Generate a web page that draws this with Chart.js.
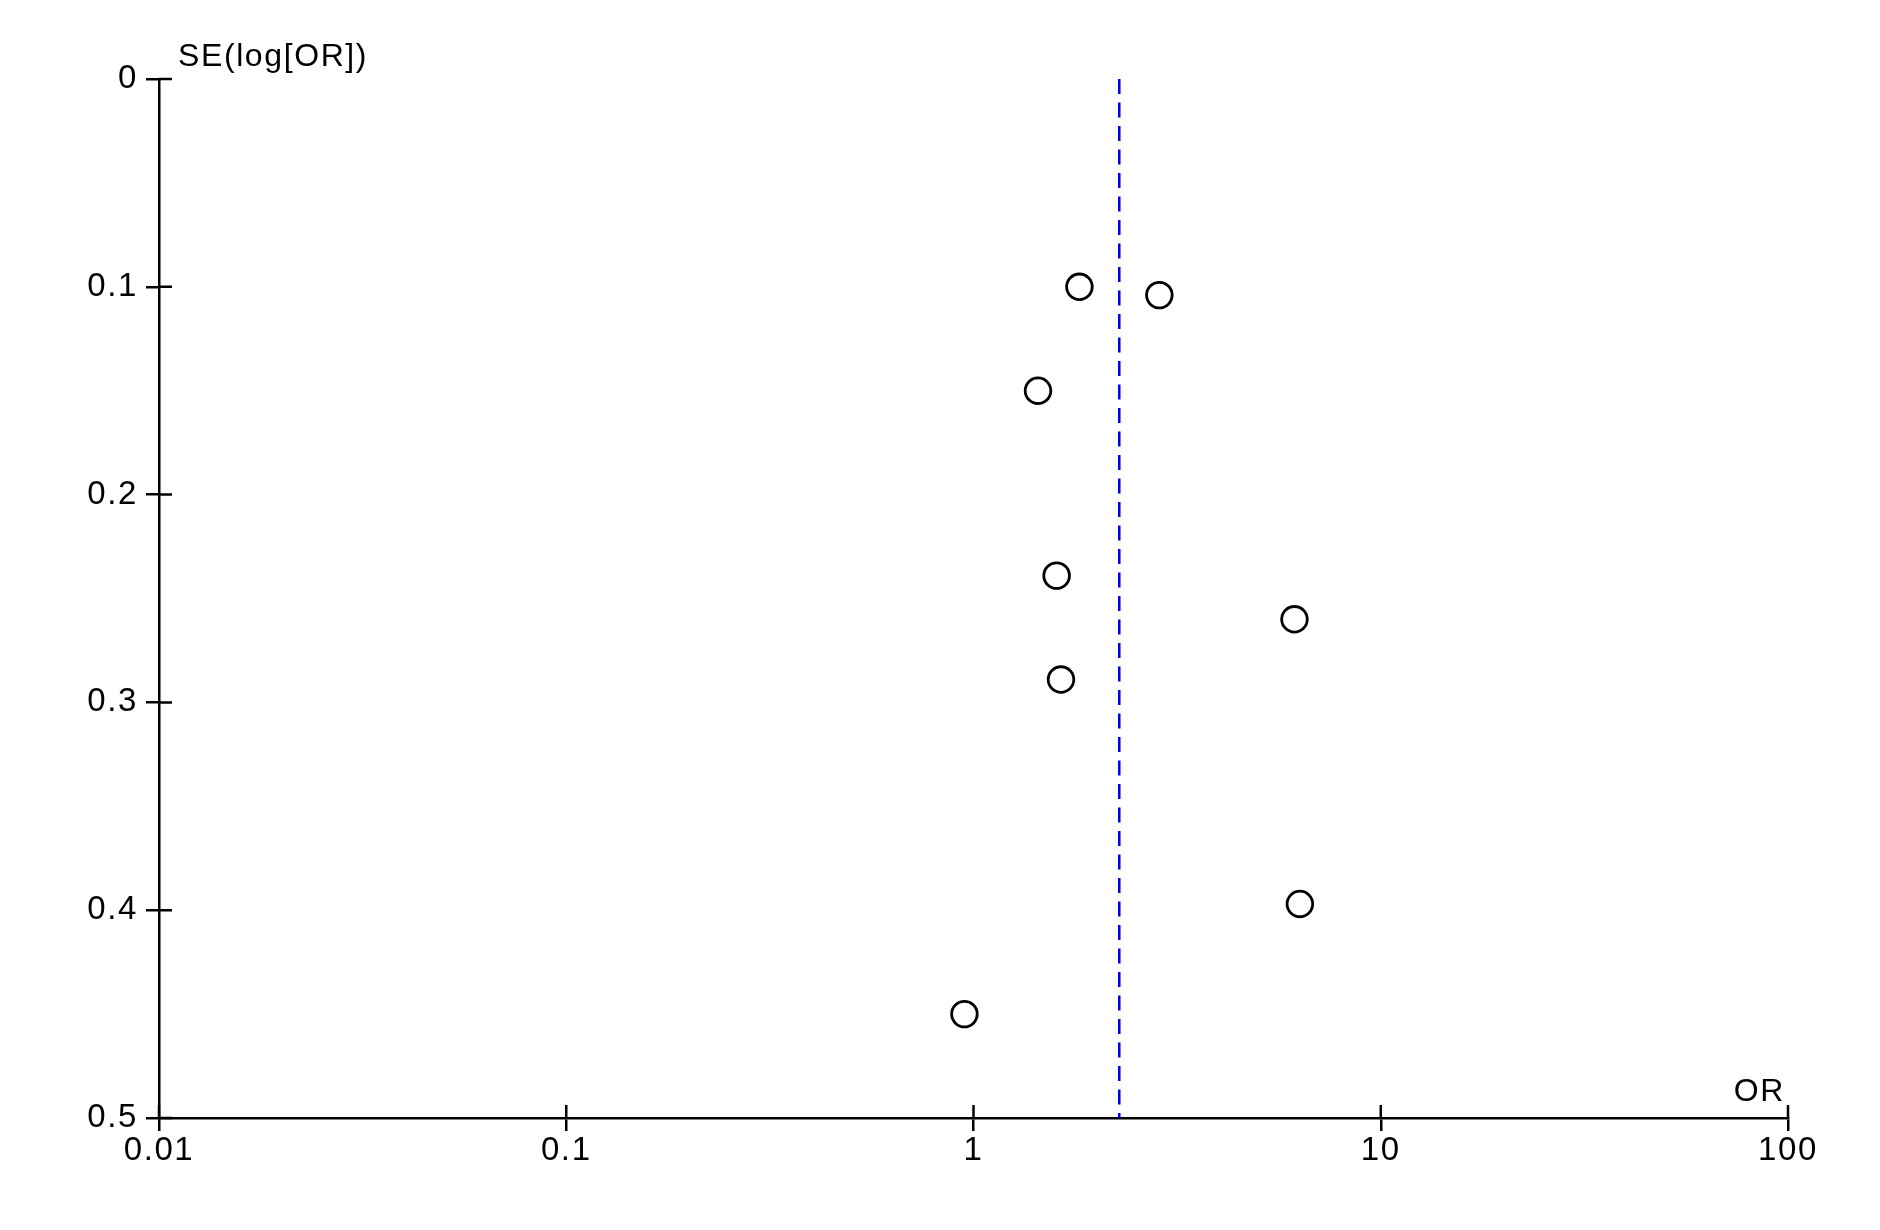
<!DOCTYPE html>
<html>
<head>
<meta charset="utf-8">
<script src="https://cdn.jsdelivr.net/npm/chart.js@4/dist/chart.umd.min.js"></script>
<style>
html,body{margin:0;padding:0;background:#fff;}
canvas{display:block;}
</style>
</head>
<body>
<canvas id="funnel" width="1880" height="1230"></canvas>
<script>
// study estimates (odds ratio) and their standard errors
const orValues = [1.82, 2.86, 1.44, 1.60, 6.14, 1.64, 6.33, 0.95];
const seValues = [0.100, 0.104, 0.150, 0.239, 0.260, 0.289, 0.397, 0.450];
// pooled estimate (dashed line)
const pooledOR = 2.28;
const pooledSE = [0, 0.5];

const xTicks = [0.01, 0.1, 1, 10, 100];
const xTickLabels = ["0.01", "0.1", "1", "10", "100"];
const yTicks = [0, 0.1, 0.2, 0.3, 0.4, 0.5];
const yTickLabels = ["0", "0.1", "0.2", "0.3", "0.4", "0.5"];

const FONT = '"Liberation Sans", Arial, sans-serif';
const TICK = 13;

const points = orValues.map((v, i) => ({x: v, y: seValues[i]}));
const pooledLine = pooledSE.map(s => ({x: pooledOR, y: s}));

// wider letter spacing like the original bitmap font
const spacing = {
  id: "spacing",
  beforeLayout(chart){ chart.ctx.letterSpacing = "1.6px"; },
  beforeDraw(chart){ chart.ctx.letterSpacing = "1.6px"; }
};

// inner half of the crossing ticks + axis titles
const extras = {
  id: "extras",
  afterDraw(chart){
    const ctx = chart.ctx;
    const a = chart.chartArea;
    const xs = chart.scales.x, ys = chart.scales.y;
    ctx.save();
    ctx.strokeStyle = "#000";
    ctx.lineWidth = 2.5;
    ctx.beginPath();
    xs.ticks.forEach((t, i) => {
      const px = xs.getPixelForTick(i);
      ctx.moveTo(px, a.bottom);
      ctx.lineTo(px, a.bottom - TICK);
    });
    ys.ticks.forEach((t, i) => {
      const py = ys.getPixelForTick(i);
      ctx.moveTo(a.left, py);
      ctx.lineTo(a.left + TICK, py);
    });
    ctx.stroke();

    ctx.fillStyle = "#000";
    ctx.font = "32px " + FONT;
    ctx.letterSpacing = "1.6px";
    ctx.textBaseline = "alphabetic";
    ctx.textAlign = "left";
    ctx.fillText("SE(log[OR])", a.left + 19, a.top - 13);
    ctx.textAlign = "right";
    ctx.fillText("OR", a.right - 3, a.bottom - 17);
    ctx.restore();
  }
};

new Chart(document.getElementById("funnel"), {
  type: "scatter",
  data: {
    datasets: [
      {
        label: "pooled",
        type: "line",
        data: pooledLine,
        borderColor: "#0000dd",
        borderWidth: 2.5,
        borderDash: [15, 8.5],
        pointRadius: 0,
        fill: false,
        order: 2
      },
      {
        label: "studies",
        data: points,
        pointStyle: "circle",
        pointRadius: 12.8,
        borderColor: "#000",
        borderWidth: 2.8,
        backgroundColor: "rgba(255,255,255,0)",
        order: 1
      }
    ]
  },
  options: {
    responsive: false,
    animation: false,
    devicePixelRatio: 1,
    layout: {padding: {left: 0, right: 92, top: 79, bottom: 52}},
    plugins: {legend: {display: false}, tooltip: {enabled: false}},
    scales: {
      x: {
        type: "logarithmic",
        min: 0.01,
        max: 100,
        afterBuildTicks(scale){ scale.ticks = xTicks.map(v => ({value: v})); },
        afterFit(scale){ scale.height = 60; },
        border: {display: true, color: "#000", width: 2.5},
        grid: {display: true, drawOnChartArea: false, drawTicks: true, tickLength: TICK, color: "#000", lineWidth: 2.5},
        ticks: {
          color: "#000",
          font: {family: FONT, size: 33},
          padding: 0,
          maxRotation: 0,
          autoSkip: false,
          callback: (v, i) => xTickLabels[i]
        }
      },
      y: {
        type: "linear",
        reverse: true,
        min: 0,
        max: 0.5,
        afterBuildTicks(scale){ scale.ticks = yTicks.map(v => ({value: v})); },
        afterFit(scale){ scale.width = 159; },
        border: {display: true, color: "#000", width: 2.5},
        grid: {display: true, drawOnChartArea: false, drawTicks: true, tickLength: TICK, color: "#000", lineWidth: 2.5},
        ticks: {
          color: "#000",
          font: {family: FONT, size: 33},
          padding: 8,
          autoSkip: false,
          callback: (v, i) => yTickLabels[i]
        }
      }
    }
  },
  plugins: [spacing, extras]
});
</script>
</body>
</html>
